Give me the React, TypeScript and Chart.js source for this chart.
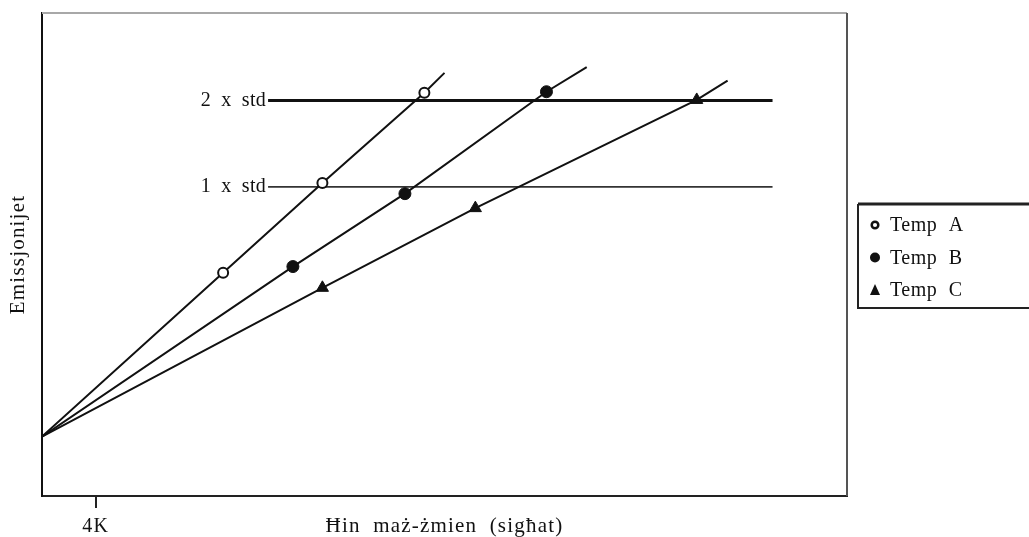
import React, { useEffect, useRef } from "react";
import { Chart, registerables } from "chart.js";

Chart.register(...registerables);

// ---- data -------------------------------------------------------------
const SERIES_NAMES = ["Temp A", "Temp B", "Temp C"];

// Each series: start point, three measured points, end of the trend line
const TEMP_A_X = [0, 13.5, 20.9, 28.5, 30.0];
const TEMP_A_Y = [12.3, 46.2, 64.8, 83.5, 87.6];
const TEMP_B_X = [0, 18.7, 27.05, 37.6, 40.6];
const TEMP_B_Y = [12.3, 47.5, 62.6, 83.7, 88.8];
const TEMP_C_X = [0, 20.9, 32.3, 48.8, 51.1];
const TEMP_C_Y = [12.3, 43.1, 59.6, 82.0, 86.0];
const MARKED = [false, true, true, true, false];

// Threshold levels (multiples of the standard)
const STD_LABELS = ["2 x std", "1 x std"];
const STD_LEVELS = [81.9, 64.0];
const STD_X = [16.85, 54.45];

// Axis
const X_TICK_VALUES = [4];
const X_TICK_LABELS = ["4K"];
const X_TITLE = "Ħin maż-żmien (sigħat)";
const Y_TITLE = "Emissjonijet";

// ---- styling ----------------------------------------------------------
const FAMILY = "'Liberation Serif', 'Times New Roman', serif";
const INK = "#111";

const toPoints = (xs: number[], ys: number[]) => xs.map((x, i) => ({ x, y: ys[i] }));
const radii = (r: number) => MARKED.map((m) => (m ? r : 0));

const markerStyles = [
  { pointStyle: "circle", radius: 5, fill: "#ffffff", border: 2 },
  { pointStyle: "circle", radius: 6, fill: INK, border: 1 },
  { pointStyle: "triangle", radius: 7, fill: INK, border: 1 },
];

const seriesData = [
  toPoints(TEMP_A_X, TEMP_A_Y),
  toPoints(TEMP_B_X, TEMP_B_Y),
  toPoints(TEMP_C_X, TEMP_C_Y),
];

function drawLegendMarker(ctx: CanvasRenderingContext2D, kind: number, x: number, y: number) {
  ctx.save();
  ctx.fillStyle = INK;
  ctx.strokeStyle = INK;
  if (kind === 0) {
    ctx.lineWidth = 2.5;
    ctx.fillStyle = "#fff";
    ctx.beginPath();
    ctx.arc(x, y, 3.3, 0, Math.PI * 2);
    ctx.fill();
    ctx.stroke();
  } else if (kind === 1) {
    ctx.beginPath();
    ctx.arc(x, y, 5, 0, Math.PI * 2);
    ctx.fill();
  } else {
    ctx.beginPath();
    ctx.moveTo(x, y - 6);
    ctx.lineTo(x + 5, y + 5);
    ctx.lineTo(x - 5, y + 5);
    ctx.closePath();
    ctx.fill();
  }
  ctx.restore();
}

// Looser text spacing for the axis texts drawn by Chart.js itself
const textSpacing = {
  id: "textSpacing",
  beforeDraw(chart: any) {
    chart.ctx.letterSpacing = "1.2px";
    chart.ctx.wordSpacing = "6px";
  },
  afterDraw(chart: any) {
    chart.ctx.letterSpacing = "0px";
    chart.ctx.wordSpacing = "0px";
  },
};

const decorations = {
  id: "decorations",
  afterDatasetsDraw(chart: any) {
    const { ctx, chartArea, scales } = chart;
    const xs = scales.x;
    const ys = scales.y;
    ctx.save();

    // frame: top and right edges of the plot box
    ctx.lineWidth = 2;
    ctx.strokeStyle = "#a8a8a8";
    ctx.beginPath();
    ctx.moveTo(chartArea.left, chartArea.top);
    ctx.lineTo(chartArea.right, chartArea.top);
    ctx.stroke();
    ctx.strokeStyle = "#555";
    ctx.beginPath();
    ctx.moveTo(chartArea.right, chartArea.top);
    ctx.lineTo(chartArea.right, chartArea.bottom);
    ctx.stroke();

    // threshold labels
    ctx.font = `20px ${FAMILY}`;
    ctx.letterSpacing = "0.3px";
    ctx.wordSpacing = "5px";
    ctx.fillStyle = INK;
    ctx.textAlign = "right";
    ctx.textBaseline = "middle";
    STD_LABELS.forEach((t, i) => {
      ctx.fillText(t, xs.getPixelForValue(STD_X[0]) - 2, ys.getPixelForValue(STD_LEVELS[i]));
    });

    // legend box
    const lx = chartArea.right + 11;
    const ly = 204;
    const lh = 104;
    ctx.fillStyle = "#fff";
    ctx.fillRect(lx, ly, 200, lh);
    ctx.strokeStyle = "#222";
    ctx.lineWidth = 3;
    ctx.beginPath();
    ctx.moveTo(lx, ly);
    ctx.lineTo(lx + 200, ly);
    ctx.stroke();
    ctx.lineWidth = 2;
    ctx.beginPath();
    ctx.moveTo(lx, ly);
    ctx.lineTo(lx, ly + lh);
    ctx.lineTo(lx + 200, ly + lh);
    ctx.stroke();

    ctx.textAlign = "left";
    ctx.fillStyle = INK;
    ctx.letterSpacing = "0.5px";
    ctx.wordSpacing = "6px";
    SERIES_NAMES.forEach((name, i) => {
      const cy = ly + 21 + i * 32.5;
      drawLegendMarker(ctx, i, lx + 17, cy);
      ctx.fillStyle = INK;
      ctx.fillText(name, lx + 32, cy + 1);
    });
    ctx.restore();
  },
};

export default function App() {
  const ref = useRef<HTMLCanvasElement>(null);

  useEffect(() => {
    if (!ref.current) return;
    const datasets: any[] = seriesData.map((data, i) => ({
      label: SERIES_NAMES[i],
      data,
      borderColor: INK,
      borderWidth: 2,
      tension: 0,
      fill: false,
      pointStyle: markerStyles[i].pointStyle,
      pointRadius: radii(markerStyles[i].radius),
      pointBackgroundColor: markerStyles[i].fill,
      pointBorderColor: INK,
      pointBorderWidth: markerStyles[i].border,
    }));
    STD_LEVELS.forEach((level, i) => {
      datasets.push({
        label: STD_LABELS[i],
        data: STD_X.map((x) => ({ x, y: level })),
        borderColor: i === 0 ? INK : "#333",
        borderWidth: i === 0 ? 3 : 1.8,
        pointRadius: 0,
        fill: false,
      });
    });

    const chart = new Chart(ref.current, {
      type: "line",
      data: { datasets },
      options: {
        animation: false,
        responsive: false,
        events: [],
        layout: { padding: { left: 6, top: 13, right: 182, bottom: 0 } },
        plugins: {
          legend: { display: false },
          tooltip: { enabled: false },
        },
        scales: {
          x: {
            type: "linear",
            min: 0,
            max: 60,
            grid: {
              display: true,
              drawOnChartArea: false,
              drawTicks: true,
              tickLength: 12,
              color: "#222",
              lineWidth: 2,
            },
            border: { display: true, color: "#222", width: 2 },
            afterBuildTicks: (scale: any) => {
              scale.ticks = X_TICK_VALUES.map((value) => ({ value }));
            },
            ticks: {
              autoSkip: false,
              maxRotation: 0,
              padding: 9,
              color: INK,
              font: { family: FAMILY, size: 20, lineHeight: 1 },
              callback: (_v: any, index: number) => X_TICK_LABELS[index],
            },
            title: {
              display: true,
              text: X_TITLE,
              color: INK,
              font: { family: FAMILY, size: 21, lineHeight: 1 },
              padding: { top: -30, bottom: 0 },
            },
          },
          y: {
            type: "linear",
            min: 0,
            max: 100,
            grid: { display: false, drawTicks: false },
            border: { display: true, color: "#111", width: 2 },
            ticks: { display: false },
            title: {
              display: true,
              text: Y_TITLE,
              color: INK,
              font: { family: FAMILY, size: 21, lineHeight: 1.2 },
              padding: { top: 0, bottom: 10.8 },
            },
          },
        },
      } as any,
      plugins: [textSpacing, decorations],
    });
    return () => chart.destroy();
  }, []);

  return (
    <div style={{ position: "fixed", left: 0, top: 0, width: 1029, height: 537, background: "#fff" }}>
      <canvas ref={ref} width={1029} height={537} style={{ display: "block" }} />
    </div>
  );
}
